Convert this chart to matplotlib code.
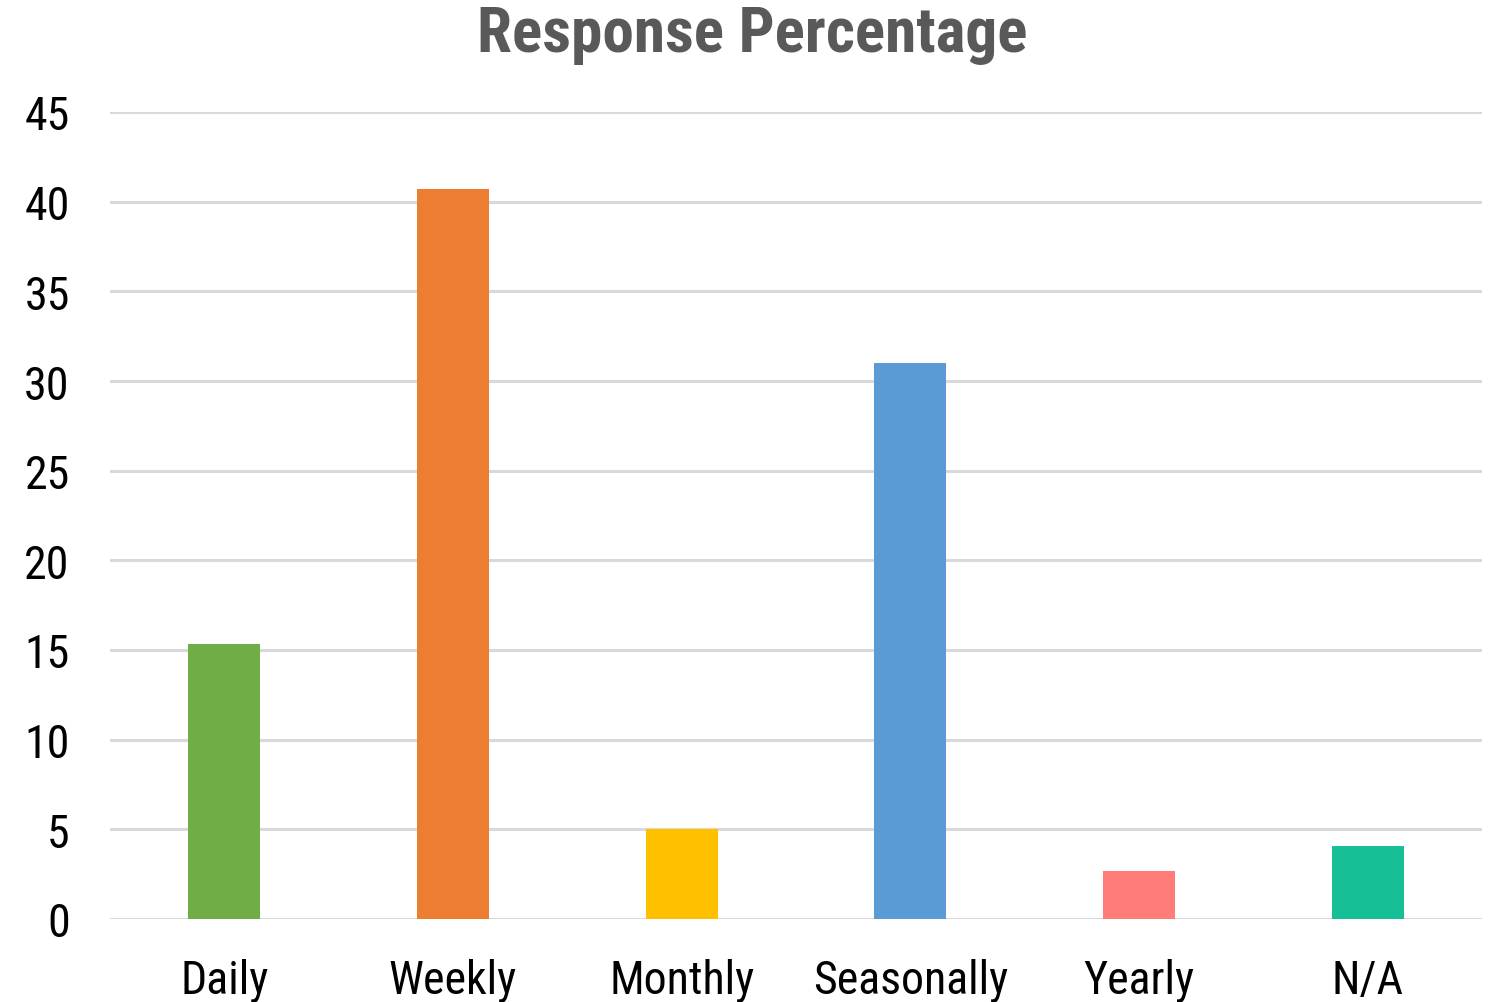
import matplotlib.pyplot as plt
from matplotlib import font_manager
import numpy as np

categories = ['Daily', 'Weekly', 'Monthly', 'Seasonally', 'Yearly', 'N/A']
values = [15.35, 40.7, 5.0, 31.0, 2.65, 4.05]
colors = ['#70ad47', '#ed7d31', '#ffc000', '#5b9bd5', '#ff7c78', '#17bf97']
yticks = [0, 5, 10, 15, 20, 25, 30, 35, 40, 45]

# pick a narrow font if one is around
family = None
for name in ['Roboto Condensed', 'Liberation Sans Narrow', 'Arial Narrow',
             'Open Sans Condensed', 'DejaVu Sans Condensed']:
    try:
        font_manager.findfont(font_manager.FontProperties(family=name),
                              fallback_to_default=False)
        family = name
        break
    except ValueError:
        pass
stretch = 'normal'
if family is None:
    family = 'DejaVu Sans'
    stretch = 'condensed'
plt.rcParams['font.family'] = [family, 'DejaVu Sans']
plt.rcParams['font.stretch'] = stretch

fig = plt.figure(figsize=(14.96, 10.03), dpi=100)
ax = fig.add_axes([110 / 1496, 1 - 920 / 1003, 1372 / 1496, 807 / 1003])

x = np.arange(len(categories))
ax.bar(x, values, width=0.315, color=colors, zorder=3)

ax.set_xlim(-0.5, len(categories) - 0.5)
ax.set_ylim(0, 45)
ax.set_yticks(yticks)
ax.set_xticks(x)
ax.set_xticklabels(categories)
ax.yaxis.grid(True, color='#d9d9d9', linewidth=2.2, zorder=0)
ax.set_axisbelow(True)
for s in ax.spines.values():
    s.set_visible(False)
ax.tick_params(axis='both', length=0, labelsize=33, colors='black')
ax.tick_params(axis='y', pad=29)
ax.tick_params(axis='x', pad=28)

fig.text(0.503, 1 - 35 / 1003, 'Response Percentage', ha='center', va='center',
         fontsize=45.5, fontweight='bold', color='#595959')

fig.savefig('out.png', dpi=100)
